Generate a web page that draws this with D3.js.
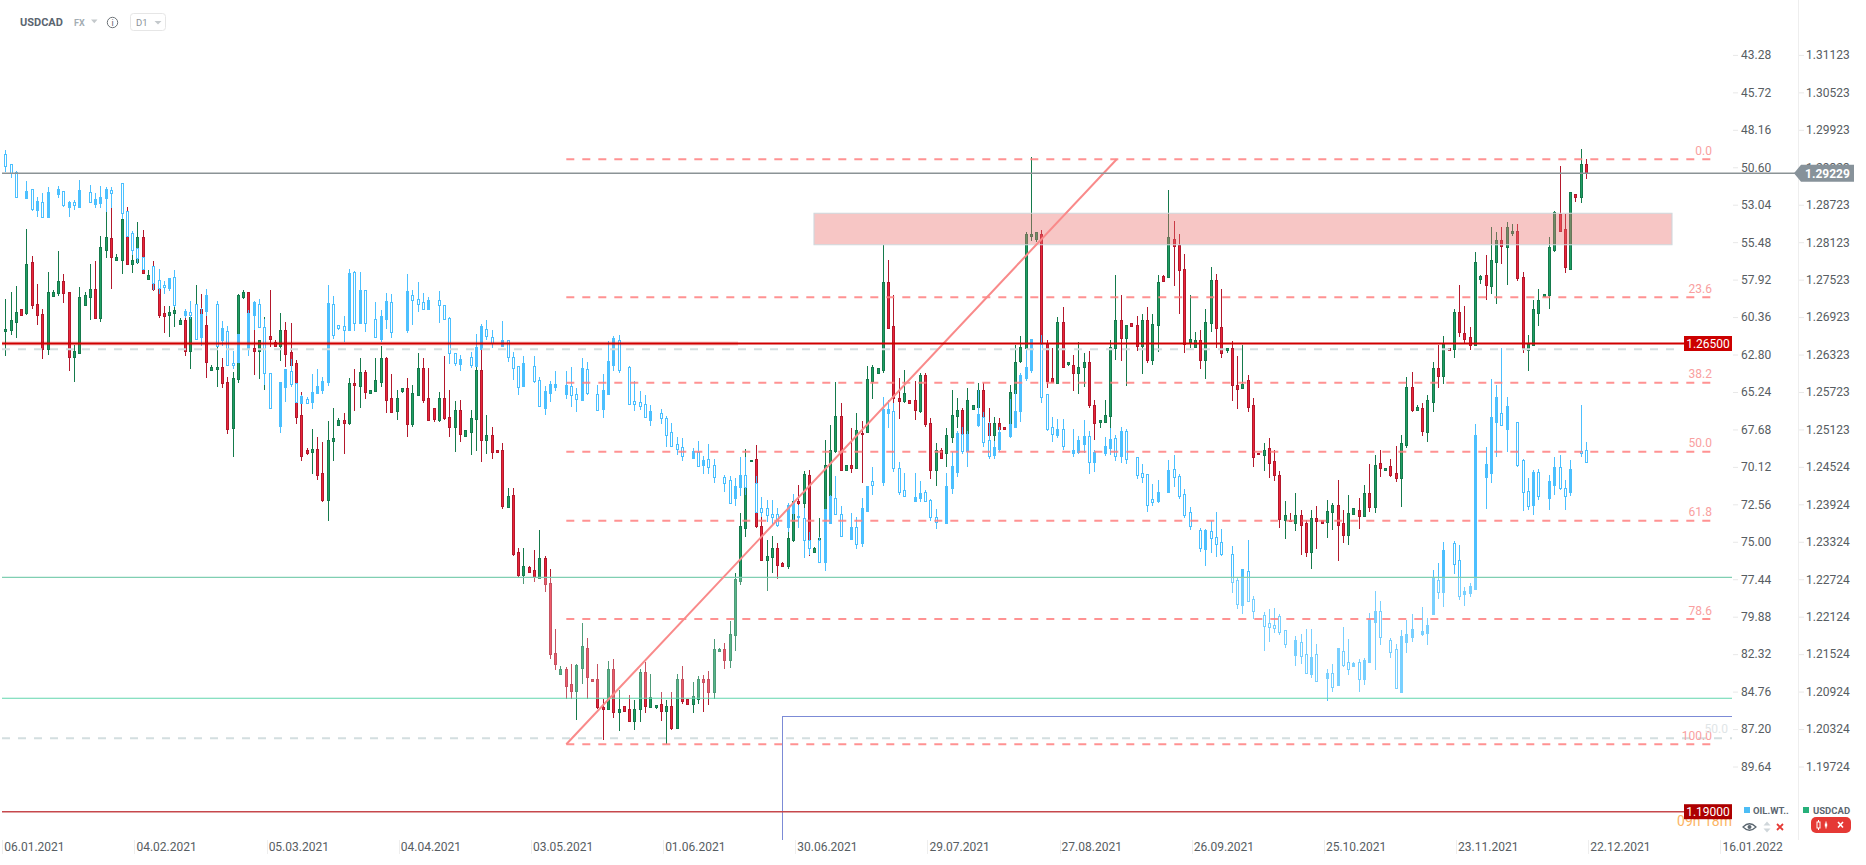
<!DOCTYPE html>
<html><head><meta charset="utf-8">
<style>html,body{margin:0;padding:0;background:#fff}svg{display:block}text{font-family:Roboto,sans-serif}</style>
<script src="https://cdn.jsdelivr.net/npm/d3@7/dist/d3.min.js"></script>
</head><body><svg id="c" width="1866" height="865"></svg>
<script>
// USDCAD daily bars, one row per bar: [high, open, close, low]
const usdBars=[
[1.2722,1.2670,1.2674,1.2630],[1.2732,1.2672,1.2687,1.2663],[1.2742,1.2685,1.2700,1.2659],[1.2706,1.2706,1.2696,1.2694],[1.2834,1.2699,1.2778,1.2695],[1.2790,1.2780,1.2712,1.2705],[1.2745,1.2714,1.2696,1.2679],[1.2706,1.2698,1.2641,1.2625],[1.2764,1.2641,1.2733,1.2631],[1.2735,1.2726,1.2733,1.2726],
[1.2798,1.2731,1.2750,1.2726],[1.2762,1.2750,1.2731,1.2715],[1.2733,1.2733,1.2629,1.2606],[1.2647,1.2629,1.2638,1.2588],[1.2740,1.2635,1.2725,1.2633],[1.2732,1.2712,1.2727,1.2712],[1.2778,1.2725,1.2738,1.2687],[1.2782,1.2738,1.2691,1.2689],[1.2822,1.2691,1.2804,1.2685],[1.2860,1.2800,1.2820,1.2787],
[1.2867,1.2819,1.2789,1.2737],[1.2793,1.2784,1.2789,1.2784],[1.2856,1.2784,1.2849,1.2761],[1.2868,1.2822,1.2778,1.2778],[1.2791,1.2778,1.2783,1.2763],[1.2844,1.2781,1.2820,1.2777],[1.2832,1.2820,1.2763,1.2763],[1.2767,1.2754,1.2760,1.2754],[1.2782,1.2747,1.2738,1.2734],[1.2740,1.2739,1.2696,1.2691],
[1.2710,1.2699,1.2694,1.2667],[1.2710,1.2696,1.2701,1.2660],[1.2709,1.2699,1.2703,1.2677],[1.2691,1.2681,1.2687,1.2681],[1.2698,1.2687,1.2638,1.2630],[1.2698,1.2638,1.2693,1.2609],[1.2744,1.2698,1.2706,1.2658],[1.2730,1.2706,1.2697,1.2693],[1.2694,1.2679,1.2621,1.2594],[1.2616,1.2608,1.2613,1.2608],
[1.2645,1.2609,1.2613,1.2580],[1.2627,1.2613,1.2587,1.2579],[1.2596,1.2589,1.2513,1.2505],[1.2605,1.2515,1.2595,1.2468],[1.2729,1.2593,1.2727,1.2587],[1.2735,1.2725,1.2733,1.2721],[1.2733,1.2733,1.2642,1.2642],[1.2671,1.2642,1.2638,1.2599],[1.2655,1.2638,1.2655,1.2593],[1.2693,1.2623,1.2645,1.2575],
[1.2735,1.2662,1.2657,1.2645],[1.2655,1.2652,1.2646,1.2646],[1.2699,1.2646,1.2671,1.2622],[1.2684,1.2671,1.2633,1.2613],[1.2683,1.2636,1.2615,1.2596],[1.2624,1.2618,1.2532,1.2521],[1.2572,1.2535,1.2470,1.2461],[1.2483,1.2479,1.2475,1.2471],[1.2513,1.2476,1.2481,1.2441],[1.2500,1.2481,1.2440,1.2431],
[1.2493,1.2442,1.2399,1.2396],[1.2526,1.2399,1.2496,1.2366],[1.2546,1.2494,1.2498,1.2461],[1.2530,1.2519,1.2527,1.2518],[1.2539,1.2527,1.2523,1.2473],[1.2594,1.2522,1.2587,1.2519],[1.2609,1.2587,1.2583,1.2542],[1.2627,1.2582,1.2605,1.2546],[1.2607,1.2605,1.2573,1.2561],[1.2576,1.2571,1.2576,1.2571],
[1.2626,1.2574,1.2591,1.2573],[1.2646,1.2589,1.2626,1.2580],[1.2629,1.2626,1.2560,1.2538],[1.2601,1.2562,1.2540,1.2540],[1.2575,1.2542,1.2563,1.2527],[1.2578,1.2574,1.2578,1.2570],[1.2594,1.2578,1.2521,1.2501],[1.2583,1.2521,1.2571,1.2516],[1.2634,1.2567,1.2611,1.2566],[1.2626,1.2611,1.2560,1.2554],
[1.2610,1.2562,1.2528,1.2528],[1.2547,1.2547,1.2529,1.2525],[1.2573,1.2528,1.2563,1.2525],[1.2630,1.2563,1.2531,1.2527],[1.2575,1.2533,1.2516,1.2500],[1.2558,1.2516,1.2543,1.2476],[1.2559,1.2543,1.2505,1.2493],[1.2511,1.2502,1.2511,1.2502],[1.2543,1.2508,1.2531,1.2471],[1.2664,1.2529,1.2608,1.2477],
[1.2639,1.2608,1.2496,1.2460],[1.2535,1.2496,1.2504,1.2473],[1.2516,1.2504,1.2476,1.2465],[1.2480,1.2480,1.2476,1.2476],[1.2490,1.2479,1.2390,1.2385],[1.2418,1.2388,1.2405,1.2388],[1.2418,1.2407,1.2313,1.2310],[1.2322,1.2316,1.2279,1.2275],[1.2322,1.2279,1.2294,1.2265],[1.2293,1.2292,1.2284,1.2283],
[1.2319,1.2287,1.2276,1.2268],[1.2352,1.2275,1.2306,1.2275],[1.2309,1.2306,1.2265,1.2252],[1.2288,1.2267,1.2153,1.2144],[1.2193,1.2155,1.2137,1.2127],[1.2134,1.2121,1.2129,1.2121],[1.2131,1.2128,1.2102,1.2081],[1.2137,1.2104,1.2094,1.2081],[1.2137,1.2094,1.2135,1.2047],[1.2203,1.2130,1.2165,1.2104],
[1.2179,1.2163,1.2116,1.2081],[1.2113,1.2113,1.2110,1.2110],[1.2136,1.2112,1.2068,1.2064],[1.2081,1.2068,1.2064,1.2015],[1.2142,1.2064,1.2128,1.2063],[1.2144,1.2128,1.2060,1.2050],[1.2095,1.2060,1.2065,1.2029],[1.2070,1.2070,1.2062,1.2062],[1.2087,1.2064,1.2045,1.2044],[1.2079,1.2045,1.2065,1.2031],
[1.2129,1.2064,1.2124,1.2043],[1.2140,1.2123,1.2070,1.2058],[1.2120,1.2068,1.2083,1.2068],[1.2071,1.2068,1.2071,1.2065],[1.2091,1.2072,1.2062,1.2045],[1.2079,1.2062,1.2070,1.2008],[1.2091,1.2070,1.2034,1.2031],[1.2120,1.2034,1.2112,1.2033],[1.2133,1.2112,1.2078,1.2073],[1.2080,1.2080,1.2073,1.2073],
[1.2107,1.2073,1.2085,1.2058],[1.2118,1.2081,1.2113,1.2073],[1.2119,1.2113,1.2108,1.2060],[1.2125,1.2112,1.2092,1.2071],[1.2177,1.2092,1.2161,1.2081],[1.2163,1.2157,1.2160,1.2157],[1.2171,1.2160,1.2143,1.2129],[1.2205,1.2143,1.2185,1.2130],[1.2283,1.2183,1.2272,1.2158],[1.2378,1.2270,1.2357,1.2263],
[1.2481,1.2355,1.2439,1.2340],[1.2464,1.2461,1.2464,1.2461],[1.2487,1.2465,1.2358,1.2354],[1.2403,1.2358,1.2303,1.2303],[1.2335,1.2303,1.2309,1.2254],[1.2341,1.2308,1.2323,1.2283],[1.2330,1.2323,1.2295,1.2273],[1.2300,1.2299,1.2294,1.2292],[1.2351,1.2294,1.2339,1.2289],[1.2407,1.2335,1.2397,1.2332],
[1.2423,1.2397,1.2394,1.2364],[1.2446,1.2395,1.2441,1.2362],[1.2448,1.2440,1.2323,1.2310],[1.2324,1.2316,1.2322,1.2316],[1.2371,1.2335,1.2339,1.2300],[1.2495,1.2372,1.2456,1.2367],[1.2519,1.2404,1.2480,1.2402],[1.2589,1.2477,1.2534,1.2474],[1.2555,1.2534,1.2448,1.2448],[1.2455,1.2448,1.2455,1.2448],
[1.2514,1.2455,1.2450,1.2442],[1.2538,1.2451,1.2512,1.2450],[1.2526,1.2507,1.2505,1.2426],[1.2614,1.2508,1.2593,1.2508],[1.2616,1.2590,1.2612,1.2561],[1.2610,1.2603,1.2610,1.2603],[1.2807,1.2608,1.2748,1.2603],[1.2784,1.2748,1.2675,1.2675],[1.2728,1.2678,1.2562,1.2548],[1.2594,1.2563,1.2558,1.2529],
[1.2607,1.2558,1.2570,1.2555],[1.2559,1.2559,1.2555,1.2555],[1.2590,1.2559,1.2543,1.2527],[1.2603,1.2542,1.2599,1.2539],[1.2603,1.2599,1.2521,1.2516],[1.2530,1.2523,1.2447,1.2433],[1.2491,1.2447,1.2480,1.2422],[1.2482,1.2479,1.2467,1.2467],[1.2514,1.2474,1.2503,1.2452],[1.2575,1.2500,1.2536,1.2490],
[1.2562,1.2534,1.2544,1.2514],[1.2546,1.2544,1.2505,1.2474],[1.2579,1.2505,1.2560,1.2479],[1.2551,1.2545,1.2551,1.2545],[1.2587,1.2548,1.2576,1.2516],[1.2586,1.2576,1.2531,1.2516],[1.2547,1.2522,1.2504,1.2490],[1.2532,1.2504,1.2522,1.2490],[1.2531,1.2522,1.2513,1.2511],[1.2517,1.2517,1.2513,1.2513],
[1.2583,1.2522,1.2573,1.2499],[1.2647,1.2570,1.2621,1.2514],[1.2662,1.2622,1.2644,1.2618],[1.2829,1.2642,1.2825,1.2642],[1.2948,1.2822,1.2826,1.2814],[1.2829,1.2817,1.2828,1.2812],[1.2832,1.2826,1.2649,1.2645],[1.2656,1.2650,1.2590,1.2579],[1.2642,1.2595,1.2589,1.2589],[1.2693,1.2587,1.2684,1.2586],
[1.2708,1.2684,1.2613,1.2613],[1.2621,1.2617,1.2621,1.2614],[1.2632,1.2616,1.2603,1.2574],[1.2652,1.2603,1.2613,1.2569],[1.2634,1.2613,1.2620,1.2580],[1.2638,1.2620,1.2551,1.2547],[1.2559,1.2551,1.2523,1.2495],[1.2528,1.2524,1.2528,1.2515],[1.2559,1.2524,1.2536,1.2523],[1.2655,1.2534,1.2645,1.2511],
[1.2760,1.2643,1.2688,1.2623],[1.2727,1.2688,1.2659,1.2622],[1.2680,1.2659,1.2680,1.2582],[1.2683,1.2683,1.2678,1.2678],[1.2694,1.2680,1.2646,1.2638],[1.2697,1.2646,1.2688,1.2601],[1.2708,1.2688,1.2624,1.2619],[1.2698,1.2624,1.2682,1.2615],[1.2760,1.2679,1.2749,1.2637],[1.2760,1.2758,1.2750,1.2750],
[1.2896,1.2757,1.2821,1.2757],[1.2847,1.2818,1.2806,1.2742],[1.2825,1.2807,1.2768,1.2697],[1.2794,1.2770,1.2649,1.2634],[1.2728,1.2653,1.2658,1.2642],[1.2668,1.2644,1.2656,1.2644],[1.2671,1.2656,1.2624,1.2609],[1.2706,1.2624,1.2685,1.2593],[1.2773,1.2683,1.2752,1.2668],[1.2762,1.2752,1.2675,1.2643],
[1.2738,1.2677,1.2635,1.2626],[1.2643,1.2640,1.2643,1.2635],[1.2654,1.2643,1.2584,1.2558],[1.2630,1.2584,1.2577,1.2545],[1.2648,1.2579,1.2585,1.2578],[1.2599,1.2591,1.2549,1.2541],[1.2562,1.2551,1.2468,1.2452],[1.2475,1.2475,1.2473,1.2472],[1.2491,1.2472,1.2480,1.2446],[1.2498,1.2482,1.2459,1.2434],
[1.2479,1.2461,1.2440,1.2430],[1.2445,1.2440,1.2369,1.2355],[1.2397,1.2367,1.2376,1.2337],[1.2378,1.2368,1.2365,1.2365],[1.2410,1.2363,1.2376,1.2349],[1.2383,1.2376,1.2360,1.2311],[1.2367,1.2362,1.2316,1.2308],[1.2383,1.2316,1.2371,1.2288],[1.2389,1.2371,1.2366,1.2321],[1.2367,1.2367,1.2363,1.2363],
[1.2400,1.2364,1.2382,1.2339],[1.2395,1.2380,1.2392,1.2351],[1.2431,1.2392,1.2360,1.2301],[1.2383,1.2362,1.2343,1.2330],[1.2408,1.2343,1.2379,1.2328],[1.2386,1.2377,1.2386,1.2377],[1.2403,1.2384,1.2374,1.2353],[1.2424,1.2373,1.2411,1.2372],[1.2457,1.2411,1.2388,1.2380],[1.2471,1.2388,1.2456,1.2378],
[1.2479,1.2458,1.2451,1.2436],[1.2451,1.2448,1.2451,1.2448],[1.2465,1.2453,1.2439,1.2436],[1.2486,1.2442,1.2435,1.2428],[1.2503,1.2435,1.2490,1.2388],[1.2596,1.2488,1.2580,1.2482],[1.2604,1.2580,1.2544,1.2541],[1.2551,1.2543,1.2549,1.2542],[1.2555,1.2546,1.2510,1.2502],[1.2567,1.2508,1.2559,1.2492],
[1.2621,1.2556,1.2611,1.2540],[1.2647,1.2611,1.2598,1.2579],[1.2662,1.2598,1.2649,1.2585],[1.2642,1.2642,1.2639,1.2639],[1.2705,1.2641,1.2701,1.2626],[1.2743,1.2701,1.2669,1.2661],[1.2710,1.2667,1.2657,1.2650],[1.2676,1.2660,1.2648,1.2639],[1.2797,1.2648,1.2781,1.2647],[1.2760,1.2753,1.2758,1.2746],
[1.2792,1.2759,1.2744,1.2719],[1.2836,1.2742,1.2784,1.2729],[1.2828,1.2781,1.2815,1.2713],[1.2836,1.2815,1.2806,1.2777],[1.2844,1.2804,1.2837,1.2743],[1.2841,1.2827,1.2831,1.2823],[1.2841,1.2831,1.2755,1.2750],[1.2765,1.2757,1.2642,1.2634],[1.2664,1.2640,1.2649,1.2606],[1.2720,1.2647,1.2706,1.2646],
[1.2738,1.2699,1.2720,1.2678],[1.2730,1.2726,1.2730,1.2726],[1.2820,1.2728,1.2805,1.2705],[1.2863,1.2800,1.2860,1.2796],[1.2935,1.2857,1.2831,1.2828],[1.2857,1.2834,1.2773,1.2763],[1.2893,1.2770,1.2893,1.2770],[1.2890,1.2890,1.2884,1.2876],[1.2962,1.2885,1.2938,1.2875],[1.2945,1.2938,1.2923,1.2913]
];
// OIL.WTI bars by the same bar position (null where it has no session): [low, open, close, high]
const oilBars=[
[49.50,49.71,50.54,50.89],[50.41,50.41,50.95,51.28],[50.82,50.89,52.51,52.56],null,[51.52,52.58,52.17,52.58],[52.04,52.04,53.30,53.43],[52.54,53.36,52.82,53.86],[52.30,52.88,53.82,53.82],[51.88,53.82,52.23,53.82],null,
[51.82,52.32,52.04,52.58],[52.17,52.17,53.04,53.17],[52.82,53.17,52.88,53.82],[52.73,52.88,53.04,53.36],[51.45,53.17,52.10,53.17],null,[51.78,52.23,52.88,52.88],[52.30,52.97,52.69,53.23],[51.84,52.91,52.56,53.23],[51.88,52.58,52.04,53.51],
[51.88,52.10,52.25,53.25],null,[51.65,51.65,53.56,53.97],[53.47,53.47,55.08,55.16],[54.77,54.90,55.97,56.32],[55.88,55.88,56.53,56.86],[56.47,56.47,57.21,57.29],null,[57.03,57.03,58.14,58.60],[57.23,57.97,58.47,58.84],
[58.01,58.29,58.42,58.84],[57.84,58.47,57.84,58.66],[57.31,57.77,59.57,59.68],null,[59.83,60.22,59.98,60.44],[59.33,60.05,60.22,60.46],[59.53,59.53,61.76,61.76],[59.79,61.65,60.16,62.22],[58.53,59.94,58.92,60.29],null,
[59.33,59.53,62.22,62.28],[60.63,61.83,61.09,62.22],[60.96,61.28,63.46,63.46],[62.57,63.32,63.46,63.76],[61.46,63.28,61.46,63.28],null,[59.89,62.39,60.11,62.89],[59.33,60.22,59.40,61.20],[59.18,59.53,61.02,61.02],[60.50,61.02,64.02,64.80],
[64.02,64.02,66.26,66.30],null,[64.56,67.43,64.61,67.89],[63.74,64.89,63.76,65.87],[63.11,63.89,64.69,64.89],[64.67,64.67,65.87,65.87],[65.43,65.93,65.52,65.98],[65.59,65.72,65.93,65.98],[64.07,65.87,65.26,66.35],[63.74,65.28,64.87,65.37],
[64.28,65.09,64.54,65.37],[58.27,64.56,59.46,64.85],[58.98,59.53,61.50,61.76],[60.89,60.89,61.09,61.20],[60.29,60.96,61.18,61.96],[57.22,61.20,57.51,61.26],[57.38,57.44,60.72,61.26],[57.42,60.74,58.59,60.79],[58.59,58.59,60.72,61.31],null,
[59.39,60.50,61.65,61.72],[59.89,61.76,60.31,62.00],[58.81,60.46,59.33,61.13],[58.85,59.39,61.31,61.70],null,null,[57.55,61.20,58.66,61.37],[58.59,58.94,59.22,60.87],[58.07,59.20,59.53,60.03],[58.81,59.39,59.81,59.89],
[59.07,59.83,59.26,59.89],null,[58.66,59.26,59.59,60.72],[59.59,59.59,60.46,60.50],[60.37,60.44,62.72,63.41],[62.72,62.72,63.32,63.54],[62.83,63.39,63.11,63.85],null,[62.63,62.98,63.50,63.65],[61.46,63.57,62.33,63.59],
[60.81,62.46,60.96,62.48],[60.55,61.15,61.61,61.83],[61.20,61.68,62.07,62.35],null,[60.61,62.22,61.85,62.25],[61.85,61.85,62.98,63.26],[62.65,62.98,63.65,64.46],[63.54,63.54,64.89,65.43],[62.91,64.85,63.37,64.89],null,
[62.89,63.57,64.50,64.63],[64.28,64.48,66.13,66.13],[64.85,66.28,65.17,66.74],[64.50,65.28,64.72,65.89],[63.89,64.89,64.72,65.17],null,[63.89,65.37,64.78,65.69],[63.63,64.85,65.43,66.19],[64.96,65.39,65.67,66.52],[63.04,65.76,63.67,65.76],
[63.28,63.76,65.33,65.43],null,[64.78,65.39,66.39,66.39],[64.07,66.35,65.11,66.93],[61.92,65.37,63.22,65.37],[61.59,63.46,61.74,63.85],[61.52,61.87,63.83,64.00],null,[63.57,63.63,66.04,66.09],[64.52,65.85,66.00,66.48],
[65.17,65.91,66.13,66.41],[65.43,66.04,66.85,66.85],[66.09,67.06,66.48,67.45],null,[66.37,66.63,66.91,67.30],[66.82,66.95,68.02,68.80],[67.28,67.87,68.73,68.84],[68.15,68.65,68.95,69.34],[68.26,68.80,69.39,69.71],null,
[68.89,69.54,69.10,69.54],[68.45,69.17,70.04,70.13],[69.41,69.97,69.67,70.58],[68.63,69.63,70.10,70.58],[69.63,70.02,70.76,71.15],null,[70.67,70.80,71.15,71.78],[70.71,71.00,72.45,72.45],[70.86,72.12,71.36,72.67],[69.45,71.41,70.65,72.02],
[69.50,70.65,71.41,71.95],null,[70.71,71.19,73.04,73.14],[72.10,72.82,73.04,73.36],[72.28,72.78,73.23,73.69],[72.28,73.21,73.36,73.90],[72.82,73.21,73.93,74.06],null,[72.49,74.01,72.60,74.38],[71.88,73.14,72.49,73.58],
[72.60,73.30,73.41,74.12],[72.82,73.47,74.90,76.08],[74.34,74.88,75.42,75.86],null,[74.71,74.88,76.34,76.36],[72.88,76.29,72.88,76.88],[71.95,73.80,72.01,73.80],[70.71,72.17,73.21,73.25],[72.67,73.21,74.60,74.66],null,
[73.14,74.82,74.03,74.84],[73.36,74.06,75.16,75.45],[72.17,75.10,72.82,75.36],[71.36,72.97,71.36,72.97],[70.10,71.06,71.32,71.95],null,[65.54,71.08,66.37,71.34],[65.76,66.58,66.37,67.56],[65.98,66.50,70.21,70.43],[69.80,70.21,71.73,71.95],
[70.54,71.65,72.00,72.06],null,[70.54,72.32,72.10,72.38],[71.04,72.15,71.84,72.43],[71.62,71.78,72.36,72.43],[72.23,72.28,73.36,73.64],[72.86,73.36,73.73,74.16],null,[70.54,73.80,71.36,73.84],[69.13,71.48,70.07,71.89],
[67.79,70.44,67.94,70.76],[67.55,67.98,69.07,69.29],[67.79,69.09,67.98,70.11],null,[65.12,67.40,66.68,67.50],[66.53,66.90,68.48,68.81],[67.18,68.37,69.39,69.61],[68.44,69.35,68.85,69.63],[67.50,68.96,67.87,69.13],null,
[65.70,68.11,67.33,68.22],[65.12,67.50,66.48,67.61],[64.03,66.48,64.14,67.18],[62.40,64.31,63.62,64.51],[61.79,63.81,61.79,63.99],null,[61.50,62.11,65.54,65.94],[65.37,65.37,67.63,67.76],[66.89,67.55,67.96,68.48],[67.02,68.03,67.68,68.22],
[67.02,67.68,68.74,69.02],null,[67.66,69.22,69.05,69.46],[68.11,69.13,68.39,69.26],[67.07,68.61,68.13,69.20],[67.79,68.13,69.79,70.57],[69.02,69.79,69.18,70.44],null,[68.20,69.20,68.79,69.39],[67.61,68.89,68.33,69.35],
[68.05,68.26,69.39,69.72],[67.55,69.42,67.81,69.85],[67.66,67.81,69.59,69.92],null,[69.50,69.50,70.63,70.89],[69.96,70.55,70.76,71.15],[70.61,70.61,72.59,73.06],[71.24,72.24,72.39,72.65],[70.98,72.35,71.78,72.46],null,
[69.68,71.74,70.35,71.74],[69.35,70.28,70.81,71.41],[70.59,70.74,72.00,72.20],[71.59,71.91,73.24,73.43],[72.76,73.09,73.96,74.24],null,[74.11,74.26,75.39,75.65],[74.19,75.45,74.26,76.56],[73.67,74.32,74.74,75.71],[73.06,74.72,75.13,75.98],
[74.17,75.04,75.78,75.91],null,[75.28,75.82,77.60,78.32],[77.34,77.52,79.04,79.36],[76.80,79.10,76.80,79.69],[74.89,76.93,78.84,78.84],[78.54,78.75,79.49,80.04],null,[79.60,79.80,80.47,82.12],[79.38,80.32,80.54,81.53],
[79.34,80.45,80.60,80.97],[79.71,79.86,80.86,81.08],[80.77,80.77,81.64,81.93],null,[81.14,82.36,81.43,83.10],[81.04,81.56,82.43,82.93],[80.71,82.34,83.53,83.58],[80.71,83.60,82.53,83.88],[81.69,82.34,84.05,84.10],null,
[83.29,83.86,83.55,85.36],[82.93,83.58,84.45,84.79],[81.95,84.34,81.95,84.40],[80.58,82.14,83.01,83.14],[81.36,82.86,83.27,83.68],[82.86,83.10,82.90,83.14],[82.64,82.86,83.92,84.79],[82.56,83.92,82.73,84.34],[79.67,82.86,80.06,82.88],[78.23,80.21,79.54,83.36],
[78.89,79.54,81.19,81.73],null,[81.30,81.43,82.16,82.56],[81.67,82.01,84.51,84.51],[80.77,84.81,81.14,84.86],[80.10,81.53,81.04,82.25],[79.73,81.21,80.71,81.51],null,[79.28,80.99,80.82,81.14],[79.99,80.93,80.45,81.73],
[76.84,79.71,77.34,79.71],[76.41,77.52,78.26,78.73],[75.04,78.28,75.56,79.25],null,[74.98,75.11,76.43,77.10],[75.21,76.21,78.52,78.80],[77.97,78.41,78.21,79.19],[77.71,78.32,77.89,78.60],[67.35,78.08,68.05,78.08],null,
[68.85,70.76,69.96,72.87],[64.40,70.52,66.87,71.17],[64.79,67.18,65.57,69.48],[62.40,66.64,67.40,67.46],[65.57,67.66,66.16,69.15],null,[67.22,67.22,69.98,70.13],[69.63,69.68,71.74,73.00],[70.85,71.70,72.65,72.93],[70.33,72.59,70.46,73.26],
[70.26,70.46,72.00,72.28],null,[70.65,72.13,71.04,72.93],[69.48,71.31,70.13,71.96],[69.35,70.13,71.50,71.63],[70.98,71.52,71.99,72.93],[69.68,71.74,70.26,72.02],null,[66.09,69.07,69.24,69.48],[68.50,69.02,69.78,69.87]
];
const dateLabels=["06.01.2021","04.02.2021","05.03.2021","04.04.2021","03.05.2021","01.06.2021","30.06.2021","29.07.2021","27.08.2021","26.09.2021","25.10.2021","23.11.2021","22.12.2021","16.01.2022"];
const barsPerLabel=25;
const oilTicks=[43.28,45.72,48.16,50.60,53.04,55.48,57.92,60.36,62.80,65.24,67.68,70.12,72.56,75.00,77.44,79.88,82.32,84.76,87.20,89.64];
const usdTicks=[1.31123,1.30523,1.29923,1.29323,1.28723,1.28123,1.27523,1.26923,1.26323,1.25723,1.25123,1.24524,1.23924,1.23324,1.22724,1.22124,1.21524,1.20924,1.20324,1.19724];
const fibLevels=[0,23.6,38.2,50,61.8,78.6,100];
const fibTop=1.29451, fibBottom=1.20080;
const currentPrice=1.29229, level1=1.265, level2=1.19;
const zoneHigh=1.28586, zoneLow=1.28083;
const greenLevels=[1.22755,1.20817];
const grayLevels=[1.26407,1.20176];
const blueLevel=1.20528;

const svg=d3.select("#c");
const x=d3.scaleLinear().domain([0,299]).range([5.3,1586]);
const yU=d3.scaleLinear().domain([1.19,1.265]).range([811.7,343.5]);
const yO=d3.scaleLinear().domain([43.28,89.64]).range([54.9,766.5]);
const px=i=>Math.round(x(i));

// USDCAD candles
const gU=svg.append("g").attr("shape-rendering","crispEdges");
const U=usdBars.map((r,i)=>({i,h:r[0],o:r[1],c:r[2],l:r[3]}));
gU.selectAll("line").data(U).join("line")
 .attr("x1",d=>px(d.i)+.5).attr("x2",d=>px(d.i)+.5).attr("y1",d=>yU(d.h)).attr("y2",d=>yU(d.l))
 .attr("stroke",d=>d.c>=d.o?"#157a4c":"#b3182c").attr("stroke-width",1);
gU.selectAll("rect").data(U).join("rect")
 .attr("x",d=>px(d.i)-.5).attr("width",2)
 .attr("y",d=>Math.round(yU(Math.max(d.o,d.c)))+.5)
 .attr("height",d=>Math.max(1,Math.round(yU(Math.min(d.o,d.c)))-Math.round(yU(Math.max(d.o,d.c)))))
 .attr("fill",d=>d.c>=d.o?"#1f9e63":"#ea2439").attr("stroke",d=>d.c>=d.o?"#157a4c":"#b3182c").attr("stroke-width",1);

// Oil candles (price axis runs downwards)
const OIL="#4cc0ff";
const gO=svg.append("g").attr("shape-rendering","crispEdges");
const O=oilBars.map((r,i)=>r&&({i,l:r[0],o:r[1],c:r[2],h:r[3]})).filter(Boolean);
gO.selectAll("line").data(O).join("line")
 .attr("x1",d=>px(d.i)+.5).attr("x2",d=>px(d.i)+.5).attr("y1",d=>yO(d.l)).attr("y2",d=>yO(d.h))
 .attr("stroke",OIL).attr("stroke-width",1);
gO.selectAll("rect").data(O).join("rect")
 .attr("x",d=>px(d.i)-.5).attr("width",2)
 .attr("y",d=>Math.round(yO(Math.min(d.o,d.c)))+.5)
 .attr("height",d=>Math.max(1,Math.round(yO(Math.max(d.o,d.c)))-Math.round(yO(Math.min(d.o,d.c)))))
 .attr("fill",d=>d.c>d.o?"#fff":OIL).attr("stroke",OIL).attr("stroke-width",1);

// drawings
const gL=svg.append("g");
const right=1732;
gL.append("rect").attr("x",2).attr("width",right-2).attr("y",yU(greenLevels[0])).attr("height",yU(greenLevels[1])-yU(greenLevels[0])).attr("fill","#fff").attr("fill-opacity",.25);
gL.selectAll(".gl").data(greenLevels).join("line").attr("class","gl").attr("x1",2).attr("x2",right).attr("y1",yU).attr("y2",yU)
 .attr("stroke",(d,i)=>i?"#62d6ae":"#80cfb2").attr("stroke-width",1.2);
gL.selectAll(".gr").data(grayLevels).join("line").attr("class","gr").attr("x1",2).attr("x2",(d,i)=>i?right:1676).attr("y1",yU).attr("y2",yU)
 .attr("stroke","#d3dee0").attr("stroke-width",2).attr("stroke-dasharray","8 8");
// supply zone
gL.append("rect").attr("x",814).attr("width",858).attr("y",yU(zoneHigh)).attr("height",yU(zoneLow)-yU(zoneHigh))
 .attr("fill","rgb(235,113,110)").attr("fill-opacity",.4);
gL.append("path").attr("d",`M814 ${yU(zoneLow)}V${yU(zoneHigh)}H1672V${yU(zoneLow)}Z`).attr("fill","none").attr("stroke","#cfd8dc").attr("stroke-width",1.1);
// fibonacci
const fy=l=>yU(fibTop+(fibBottom-fibTop)*l/100);
gL.selectAll(".fb").data(fibLevels).join("line").attr("class","fb").attr("x1",566.3).attr("x2",1712).attr("y1",fy).attr("y2",fy)
 .attr("stroke","#ff7f7f").attr("stroke-opacity",.85).attr("stroke-width",2).attr("stroke-dasharray","8 8");
gL.append("line").attr("x1",566.3).attr("y1",fy(100)).attr("x2",1116.7).attr("y2",fy(0)).attr("stroke","#f98a8a").attr("stroke-width",2);
gL.selectAll(".ft").data(fibLevels).join("text").attr("class","ft").attr("x",1712).attr("y",d=>fy(d)-4.5).attr("text-anchor","end")
 .attr("font-size",12).attr("fill","#f9a0a0").text(d=>d.toFixed(1));
gL.append("text").attr("x",1728).attr("y",yU(grayLevels[1])-5).attr("text-anchor","end").attr("font-size",12).attr("fill","#dfe5e7").text("50.0");
// blue box line
gL.append("path").attr("d",`M782.5 840V${Math.round(yU(blueLevel))+.5}H${right}`).attr("fill","none").attr("stroke","#7c8bd6").attr("stroke-width",1).attr("shape-rendering","crispEdges");
// horizontal price levels
gL.append("line").attr("x1",2).attr("x2",738).attr("y1",yU(level1)).attr("y2",yU(level1)).attr("stroke","#d00000").attr("stroke-opacity",.2).attr("stroke-width",4);
gL.append("line").attr("x1",2).attr("x2",1686).attr("y1",yU(level1)).attr("y2",yU(level1)).attr("stroke","#d00000").attr("stroke-width",2);
gL.append("line").attr("x1",2).attr("x2",1686).attr("y1",yU(level2)).attr("y2",yU(level2)).attr("stroke","#c6484c").attr("stroke-width",1.4);
gL.append("line").attr("x1",2).attr("x2",1795).attr("y1",yU(currentPrice)).attr("y2",yU(currentPrice)).attr("stroke","#8b9396").attr("stroke-width",1.5);

// countdown
svg.append("defs").append("clipPath").attr("id","tc").append("rect").attr("x",1660).attr("y",800).attr("width",72).attr("height",40);
svg.append("text").attr("x",1732).attr("y",826).attr("text-anchor","end").attr("font-size",14).attr("fill","#fcb565").attr("clip-path","url(#tc)").text("09h 18m");

// level boxes
[[level1,"#cc0000","1.26500"],[level2,"#ad0000","1.19000"]].forEach(([v,c,t])=>{
 svg.append("rect").attr("x",1684).attr("y",yU(v)-7.5).attr("width",48).attr("height",15).attr("fill",c);
 svg.append("text").attr("x",1708).attr("y",yU(v)+4.2).attr("text-anchor","middle").attr("font-size",12).attr("fill","#fff").text(t);
});

// price axes
const axO=svg.append("g").attr("transform","translate(1733,0)").call(d3.axisRight(yO).tickValues(oilTicks).tickSize(5).tickPadding(3).tickFormat(d3.format(".2f")));
const axU=svg.append("g").attr("transform","translate(1799,0)").call(d3.axisRight(yU).tickValues(usdTicks).tickSize(5).tickPadding(2).tickFormat(d3.format(".5f")));
[axO,axU].forEach(a=>{a.select(".domain").remove();a.selectAll("line").attr("stroke","#e8e8e8");a.selectAll("text").attr("font-family","Roboto").attr("font-size",12).attr("fill","#575d62");});
svg.append("line").attr("x1",1798.5).attr("x2",1798.5).attr("y1",0).attr("y2",840).attr("stroke","#eeeeee");
svg.append("rect").attr("x",1733).attr("y",800).attr("width",133).attr("height",42).attr("fill","#fff");
svg.append("line").attr("x1",1798.5).attr("x2",1798.5).attr("y1",800).attr("y2",840).attr("stroke","#eeeeee");

// current price tag
const cy=yU(currentPrice);
svg.append("path").attr("d",`M1794 ${cy}L1801 ${cy-8.5}H1854V${cy+8.5}H1801Z`).attr("fill","#87929a");
svg.append("text").attr("x",1827.5).attr("y",cy+4.4).attr("text-anchor","middle").attr("font-size",12).attr("font-weight",700).attr("fill","#fff").text("1.29229");

// time axis
const gT=svg.append("g").attr("transform","translate(0,840)");
const T=dateLabels.map((t,k)=>({t,i:k*barsPerLabel}));
gT.selectAll("line").data(T).join("line").attr("x1",d=>Math.round(x(d.i))-2.5).attr("x2",d=>Math.round(x(d.i))-2.5).attr("y1",0).attr("y2",14).attr("stroke","#eeeeee");
gT.selectAll("text").data(T).join("text").attr("x",d=>x(d.i)-1).attr("y",11).attr("font-size",12).attr("fill","#575d62").text(d=>d.t);

// header
svg.append("text").attr("x",20).attr("y",26).attr("font-size",11).attr("font-weight",700).attr("fill","#5b6670").text("USDCAD");
svg.append("text").attr("x",74).attr("y",26).attr("font-size",9).attr("font-weight",700).attr("fill","#a4adb3").text("FX");
svg.append("path").attr("d","M91 19.5h6.5l-3.2 3.8z").attr("fill","#c4c9cc");
svg.append("circle").attr("cx",112.5).attr("cy",22.5).attr("r",5.2).attr("fill","none").attr("stroke","#6d7378").attr("stroke-width",1);
svg.append("text").attr("x",112.5).attr("y",26).attr("text-anchor","middle").attr("font-size",9).attr("fill","#5b6670").text("i");
svg.append("rect").attr("x",130.5).attr("y",13.5).attr("width",35).attr("height",17).attr("rx",3).attr("fill","#fff").attr("stroke","#e6e6e6");
svg.append("text").attr("x",136).attr("y",26).attr("font-size",9.5).attr("fill","#8b9399").text("D1");
svg.append("path").attr("d","M154.5 21h7l-3.5 3.6z").attr("fill","#c4c9cc");

// legend
svg.append("rect").attr("x",1744).attr("y",807).attr("width",6).attr("height",6).attr("fill","#4dbdf5");
svg.append("text").attr("x",1753).attr("y",813.5).attr("font-size",9.5).attr("font-weight",700).attr("fill","#5b6670").text("OIL.WT..");
svg.append("rect").attr("x",1803).attr("y",807).attr("width",6).attr("height",6).attr("fill","#26b07a");
svg.append("text").attr("x",1813).attr("y",813.5).attr("font-size",9.5).attr("font-weight",700).attr("fill","#5b6670").text("USDCAD");
// eye, order arrows, close
svg.append("path").attr("d","M1743 827q6.5-6.5 13 0q-6.5 6.5-13 0z").attr("fill","none").attr("stroke","#5b6670").attr("stroke-width",1.2);
svg.append("circle").attr("cx",1749.5).attr("cy",827).attr("r",2).attr("fill","#5b6670");
svg.append("path").attr("d","M1763.5 825.5l3.5-4l3.5 4zM1763.5 828.5l3.5 4l3.5-4z").attr("fill","#cfd6da");
svg.append("path").attr("d","M1777 824l6 6M1783 824l-6 6").attr("stroke","#e53935").attr("stroke-width",1.8);
svg.append("rect").attr("x",1811).attr("y",817).attr("width",40).attr("height",16).attr("rx",5).attr("fill","#e53935");
svg.append("path").attr("d","M1818.5 820v10M1826 821.5v7").attr("stroke","#fff").attr("stroke-width",1);
svg.append("rect").attr("x",1817).attr("y",822).attr("width",3).attr("height",6).attr("fill","#e53935").attr("stroke","#fff");
svg.append("rect").attr("x",1824.8).attr("y",823.5).attr("width",2.4).attr("height",3).attr("fill","#fff");
svg.append("path").attr("d","M1838 822l5 5.5M1843 822l-5 5.5").attr("stroke","#fff").attr("stroke-width",1.6);
</script></body></html>
